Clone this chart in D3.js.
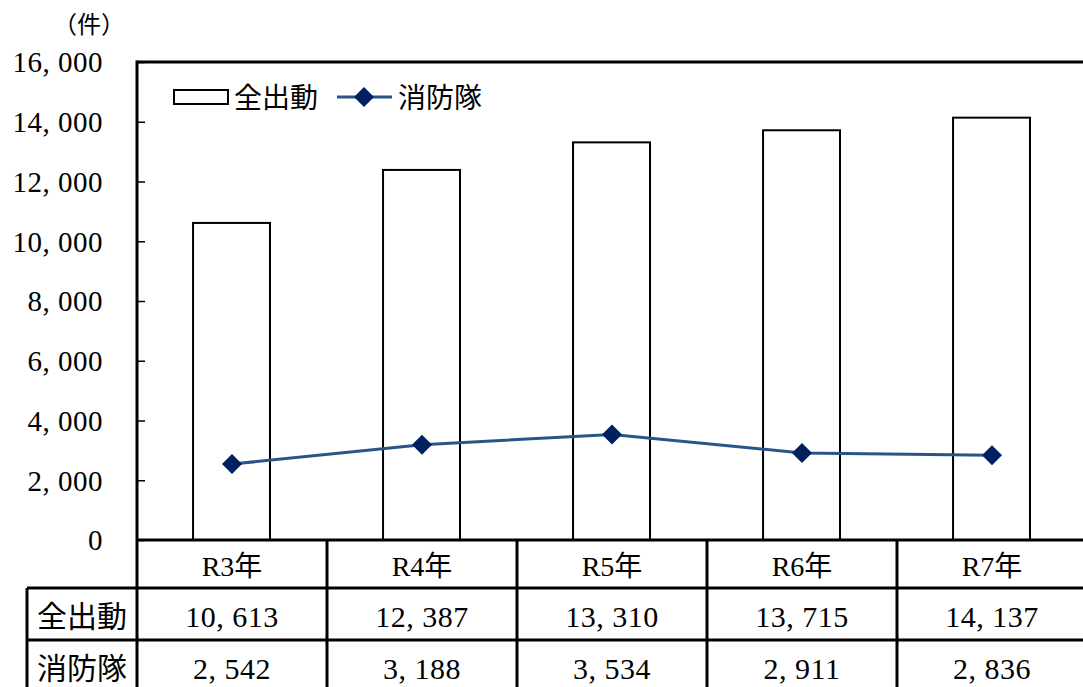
<!DOCTYPE html>
<html>
<head>
<meta charset="utf-8">
<script src="https://cdn.jsdelivr.net/npm/d3@7"></script>
<style>
  body { margin: 0; background: #fff; }
  text { font-family: "Liberation Serif", "Noto Sans CJK JP", serif; fill: #000; }
</style>
</head>
<body>
<div id="chart"></div>
<script>
'use strict';

var years = ['R3年', 'R4年', 'R5年', 'R6年', 'R7年'];
var allDispatch = [10613, 12387, 13310, 13715, 14137];   // 全出動
var fireTeam = [2542, 3188, 3534, 2911, 2836];           // 消防隊
var seriesNames = ['全出動', '消防隊'];
var yTicks = [0, 2000, 4000, 6000, 8000, 10000, 12000, 14000, 16000];

var width = 1083, height = 687;
var plotLeft = 137, plotRight = 1087, plotTop = 62, plotBottom = 540;
var rowH = [48, 52, 52];

var svg = d3.select('#chart')
    .append('svg')
    .attr('width', width)
    .attr('height', height);

var x = d3.scaleBand()
    .domain(years)
    .range([plotLeft, plotRight])
    .paddingInner(0)
    .paddingOuter(0);

var y = d3.scaleLinear()
    .domain([0, 16000])
    .range([plotBottom, plotTop]);

// comma followed by a space, like the original numbers
function fmt(v) {
    return d3.format(',')(v).replace(/,/g, ', ');
}

// bars
svg.selectAll('rect.bar')
    .data(allDispatch)
    .enter().append('rect')
    .attr('class', 'bar')
    .attr('x', function (d, i) { return x(years[i]) + x.bandwidth() * 0.295; })
    .attr('width', x.bandwidth() * 0.405)
    .attr('y', function (d) { return y(d); })
    .attr('height', function (d) { return plotBottom - y(d); })
    .attr('fill', '#fff')
    .attr('stroke', '#000')
    .attr('stroke-width', 2);

// y axis
var yAxis = d3.axisLeft(y)
    .tickValues(yTicks)
    .tickSize(-8)
    .tickFormat(fmt)
    .tickPadding(34);

var ga = svg.append('g')
    .attr('transform', 'translate(' + plotLeft + ',0)')
    .call(yAxis);
ga.select('.domain').remove();
ga.selectAll('.tick line').attr('stroke', '#000').attr('stroke-width', 1.5);
ga.selectAll('.tick text')
    .style('font-size', '29px')
    .style('letter-spacing', '0.5px')
    .attr('dy', '0.34em')
    .attr('fill', '#000');

svg.append('text')
    .attr('x', 89)
    .attr('y', 33)
    .attr('text-anchor', 'middle')
    .style('font-size', '24px')
    .text('（件）');

// plot frame: left & top
svg.append('line')
    .attr('x1', plotLeft).attr('x2', plotLeft)
    .attr('y1', plotTop - 1.5).attr('y2', height)
    .attr('stroke', '#000').attr('stroke-width', 3);
svg.append('line')
    .attr('x1', plotLeft).attr('x2', width)
    .attr('y1', plotTop).attr('y2', plotTop)
    .attr('stroke', '#000').attr('stroke-width', 3);

// line series
var line = d3.line()
    .x(function (d, i) { return x(years[i]) + x.bandwidth() / 2; })
    .y(function (d) { return y(d); });

svg.append('path')
    .datum(fireTeam)
    .attr('d', line)
    .attr('fill', 'none')
    .attr('stroke', '#285587')
    .attr('stroke-width', 3);

var diamond = d3.symbol().type(d3.symbolSquare).size(200);
svg.selectAll('path.marker')
    .data(fireTeam)
    .enter().append('path')
    .attr('class', 'marker')
    .attr('d', diamond)
    .attr('transform', function (d, i) {
        return 'translate(' + (x(years[i]) + x.bandwidth() / 2) + ',' + y(d) + ') rotate(45)';
    })
    .attr('fill', '#002060');

// legend
var lg = svg.append('g');
lg.append('rect')
    .attr('x', 174).attr('y', 90)
    .attr('width', 54).attr('height', 14)
    .attr('fill', '#fff').attr('stroke', '#000').attr('stroke-width', 2);
lg.append('text')
    .attr('x', 234).attr('y', 108)
    .style('font-size', '28px')
    .text(seriesNames[0]);
lg.append('line')
    .attr('x1', 337).attr('x2', 392)
    .attr('y1', 97).attr('y2', 97)
    .attr('stroke', '#285587').attr('stroke-width', 3);
lg.append('path')
    .attr('d', diamond)
    .attr('transform', 'translate(364,97) rotate(45)')
    .attr('fill', '#002060');
lg.append('text')
    .attr('x', 398).attr('y', 108)
    .style('font-size', '28px')
    .text(seriesNames[1]);

// data table
var rowTop = [plotBottom, plotBottom + rowH[0], plotBottom + rowH[0] + rowH[1]];
var tbl = svg.append('g');

// horizontal lines
rowTop.forEach(function (yy, i) {
    tbl.append('line')
        .attr('x1', i === 0 ? plotLeft : 27).attr('x2', width)
        .attr('y1', yy).attr('y2', yy)
        .attr('stroke', '#000').attr('stroke-width', 3);
});
// vertical lines between categories
years.forEach(function (yr, i) {
    if (i === 0) { return; }
    tbl.append('line')
        .attr('x1', x(yr)).attr('x2', x(yr))
        .attr('y1', plotBottom).attr('y2', height)
        .attr('stroke', '#000').attr('stroke-width', 3);
});
tbl.append('line')
    .attr('x1', 27).attr('x2', 27)
    .attr('y1', rowTop[1]).attr('y2', height)
    .attr('stroke', '#000').attr('stroke-width', 3);

// header row
tbl.selectAll('text.hdr')
    .data(years)
    .enter().append('text')
    .attr('class', 'hdr')
    .attr('x', function (d) { return x(d) + x.bandwidth() / 2; })
    .attr('y', rowTop[0] + 36)
    .attr('text-anchor', 'middle')
    .style('font-size', '28px')
    .text(function (d) { return d; });

[allDispatch, fireTeam].forEach(function (vals, r) {
    var yy = rowTop[r + 1] + 39;
    tbl.append('text')
        .attr('x', 82).attr('y', yy)
        .attr('text-anchor', 'middle')
        .style('font-size', '30px')
        .text(seriesNames[r]);
    tbl.selectAll('text.v' + r)
        .data(vals)
        .enter().append('text')
        .attr('class', 'v' + r)
        .attr('x', function (d, i) { return x(years[i]) + x.bandwidth() / 2; })
        .attr('y', yy)
        .attr('text-anchor', 'middle')
        .style('font-size', '30px')
        .style('letter-spacing', '0.5px')
        .text(fmt);
});
</script>
</body>
</html>
